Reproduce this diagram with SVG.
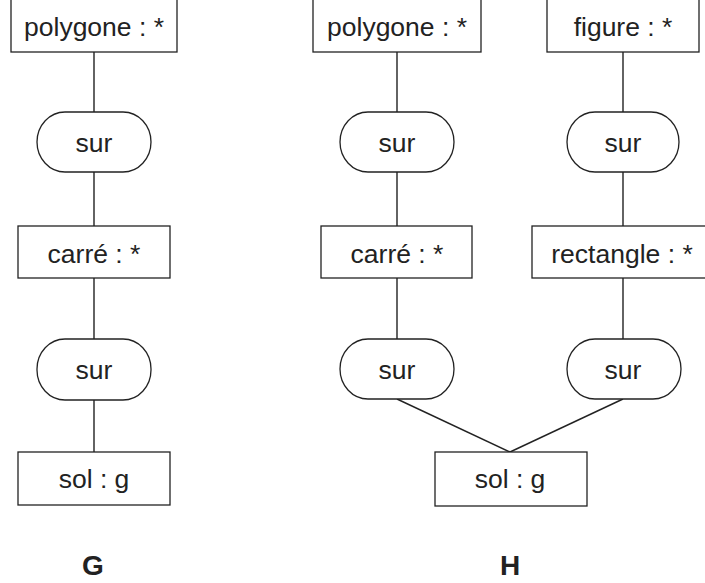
<svg xmlns="http://www.w3.org/2000/svg" width="705" height="583" viewBox="0 0 705 583">
<style>
.box{fill:#fff;stroke:#222;stroke-width:1.3}
.rel{fill:#fff;stroke:#222;stroke-width:1.3}
.t{font-family:"Liberation Sans",Arial,sans-serif;font-size:26.5px;fill:#222;text-anchor:middle}
.lbl{font-family:"Liberation Sans",Arial,sans-serif;font-size:28px;font-weight:bold;fill:#222;text-anchor:middle}
.c{stroke:#222;stroke-width:1.4;fill:none}
</style>
<rect width="705" height="583" fill="#fff"/>
<g id="connectors">
<line class="c" x1="94" y1="52" x2="94" y2="112"/>
<line class="c" x1="94" y1="172" x2="94" y2="226"/>
<line class="c" x1="94" y1="278" x2="94" y2="339"/>
<line class="c" x1="94" y1="400" x2="94" y2="452"/>
<line class="c" x1="397" y1="52" x2="397" y2="112"/>
<line class="c" x1="397" y1="172" x2="397" y2="226"/>
<line class="c" x1="397" y1="278" x2="397" y2="339"/>
<line class="c" x1="397" y1="399" x2="510" y2="452"/>
<line class="c" x1="623" y1="52" x2="623" y2="112"/>
<line class="c" x1="623" y1="172" x2="623" y2="226"/>
<line class="c" x1="623" y1="278" x2="623" y2="339"/>
<line class="c" x1="623" y1="399" x2="510" y2="452"/>
</g>
<g id="G-polygone"><rect class="box" x="11" y="-2" width="166" height="54"/><text class="t" x="94" y="36">polygone : *</text></g>
<g id="G-sur1"><rect class="rel" x="37" y="112" width="114" height="60" rx="28" ry="30"/><text class="t" x="94" y="152">sur</text></g>
<g id="G-carre"><rect class="box" x="18" y="226" width="152" height="52"/><text class="t" x="94" y="263">carré : *</text></g>
<g id="G-sur2"><rect class="rel" x="37" y="339" width="114" height="61" rx="28" ry="30"/><text class="t" x="94" y="379">sur</text></g>
<g id="G-sol"><rect class="box" x="18" y="452" width="152" height="53"/><text class="t" x="94" y="488">sol : g</text></g>
<g id="H-polygone"><rect class="box" x="313" y="-2" width="168" height="54"/><text class="t" x="397" y="36">polygone : *</text></g>
<g id="H-figure"><rect class="box" x="547" y="-2" width="152" height="54"/><text class="t" x="623" y="36">figure : *</text></g>
<g id="H-sur1"><rect class="rel" x="340" y="112" width="114" height="60" rx="28" ry="30"/><text class="t" x="397" y="152">sur</text></g>
<g id="H-sur2"><rect class="rel" x="567" y="112" width="112" height="60" rx="28" ry="30"/><text class="t" x="623" y="152">sur</text></g>
<g id="H-carre"><rect class="box" x="321" y="226" width="151" height="52"/><text class="t" x="397" y="263">carré : *</text></g>
<g id="H-rectangle"><rect class="box" x="532" y="226" width="182" height="52"/><text class="t" x="622" y="263">rectangle : *</text></g>
<g id="H-sur3"><rect class="rel" x="340" y="339" width="114" height="60" rx="28" ry="30"/><text class="t" x="397" y="379">sur</text></g>
<g id="H-sur4"><rect class="rel" x="567" y="339" width="114" height="60" rx="28" ry="30"/><text class="t" x="623" y="379">sur</text></g>
<g id="H-sol"><rect class="box" x="435" y="452" width="152" height="54"/><text class="t" x="510" y="488">sol : g</text></g>
<text class="lbl" x="93" y="575">G</text>
<text class="lbl" x="510" y="575">H</text>
</svg>
